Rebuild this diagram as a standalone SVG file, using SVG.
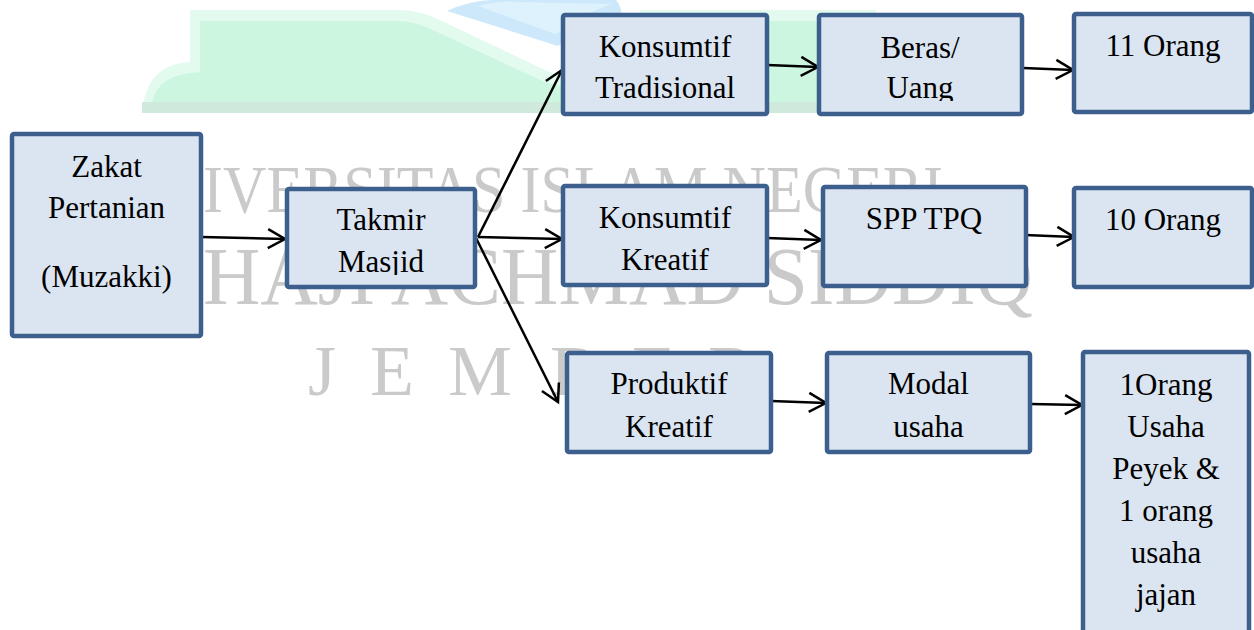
<svg xmlns="http://www.w3.org/2000/svg" width="1254" height="630" viewBox="0 0 1254 630">
<style>
.box{fill:#dbe5f1;stroke:#3c5f8e;stroke-width:4.5}
.t{font-family:"Liberation Serif","Times New Roman",serif;font-size:31px;fill:#000;text-anchor:middle}
.wm{font-family:"Liberation Serif","Times New Roman",serif;fill:#cacaca}
.c{stroke:#000;stroke-width:2.5;fill:none;marker-end:url(#ah)}
</style>
<defs>
<marker id="ah" markerUnits="userSpaceOnUse" markerWidth="22" markerHeight="24" viewBox="0 0 22 24" refX="19" refY="12" orient="auto">
<path d="M2,2.5 L19,12 L2,21.5" fill="none" stroke="#000" stroke-width="2.5"/>
</marker>
<clipPath id="clipTak"><rect x="287" y="189" width="188" height="86"/></clipPath>
<clipPath id="clipBer"><rect x="819" y="15" width="203" height="86"/></clipPath>
</defs>
<g id="watermark">
<path d="M142,113 Q146,64 190,62 L190,10 L400,10 Q420,10 442,21 L545,70 Q560,77 600,77 L600,113 Z" fill="#e3fbef"/>
<path d="M152,102 Q158,74 200,72 L200,21 L398,21 Q415,21 435,31 L540,80 Q556,88 600,88 L600,102 Z" fill="#cdf6e0"/>
<rect x="142" y="102" width="458" height="11" fill="#cfe9dc"/>
<rect x="640" y="10" width="236" height="103" fill="#e3fbef"/>
<rect x="640" y="21" width="236" height="81" fill="#cdf6e0"/>
<rect x="640" y="102" width="236" height="11" fill="#cfe9dc"/>
<path d="M447,11 Q468,1 492,0 L616,0 Q623,8 621,20 Q600,20 585,28 Q570,37 558,46 Z" fill="#cce8fa"/>
<path d="M478,6 Q500,0 520,2 L612,4 Q592,10 575,22 Q565,30 555,34 Z" fill="#def2fd"/>
<text class="wm" x="203" y="212" font-size="67" textLength="740" lengthAdjust="spacingAndGlyphs">IVERSITAS ISLAM NEGERI</text>
<text class="wm" x="203" y="304" font-size="82" textLength="830" lengthAdjust="spacingAndGlyphs">HAJI ACHMAD SIDDIQ</text>
<text class="wm" x="308 370 448 550 632 708" y="395" font-size="72">JEMBER</text>
</g>
<g id="connectors">
<line class="c" x1="202" y1="237" x2="285" y2="239"/>
<line class="c" x1="478" y1="237" x2="562" y2="70"/>
<line class="c" x1="478" y1="237" x2="562" y2="239"/>
<line class="c" x1="476" y1="238" x2="558" y2="402"/>
<line class="c" x1="767" y1="65" x2="818" y2="67"/>
<line class="c" x1="1023" y1="68" x2="1073" y2="70"/>
<line class="c" x1="767" y1="238" x2="821" y2="240"/>
<line class="c" x1="1025" y1="235" x2="1074" y2="237"/>
<line class="c" x1="771" y1="401" x2="826" y2="403"/>
<line class="c" x1="1031" y1="404" x2="1082" y2="405"/>
</g>
<g id="zakat">
<rect class="box" x="12" y="134" width="189" height="202" rx="2"/>
<text class="t" x="106.5" y="177">Zakat</text>
<text class="t" x="106.5" y="218">Pertanian</text>
<text class="t" x="106.5" y="287">(Muzakki)</text>
</g>
<g id="takmir">
<rect class="box" x="287" y="189" width="188" height="98" rx="2"/>
<g clip-path="url(#clipTak)">
<text class="t" x="381" y="230">Takmir</text>
<text class="t" x="381" y="272">Masjid</text>
</g>
</g>
<g id="konsumtif-tradisional">
<rect class="box" x="563" y="15" width="204" height="99" rx="2"/>
<text class="t" x="665" y="57">Konsumtif</text>
<text class="t" x="665" y="98">Tradisional</text>
</g>
<g id="beras-uang">
<rect class="box" x="819" y="15" width="203" height="99" rx="2"/>
<g clip-path="url(#clipBer)">
<text class="t" x="920" y="58">Beras/</text>
<text class="t" x="920" y="98">Uang</text>
</g>
</g>
<g id="orang11">
<rect class="box" x="1074" y="14" width="178" height="98" rx="2"/>
<text class="t" x="1163" y="56">11 Orang</text>
</g>
<g id="konsumtif-kreatif">
<rect class="box" x="563" y="186" width="204" height="99" rx="2"/>
<text class="t" x="665" y="228">Konsumtif</text>
<text class="t" x="665" y="270">Kreatif</text>
</g>
<g id="spp-tpq">
<rect class="box" x="823" y="187" width="203" height="99" rx="2"/>
<text class="t" x="924" y="229">SPP TPQ</text>
</g>
<g id="orang10">
<rect class="box" x="1074" y="188" width="178" height="99" rx="2"/>
<text class="t" x="1163" y="230">10 Orang</text>
</g>
<g id="produktif-kreatif">
<rect class="box" x="567" y="353" width="204" height="99" rx="2"/>
<text class="t" x="669" y="394">Produktif</text>
<text class="t" x="669" y="437">Kreatif</text>
</g>
<g id="modal-usaha">
<rect class="box" x="827" y="353" width="203" height="99" rx="2"/>
<text class="t" x="928.5" y="394">Modal</text>
<text class="t" x="928.5" y="437">usaha</text>
</g>
<g id="orang-usaha">
<rect class="box" x="1083" y="352" width="166" height="290" rx="2"/>
<text class="t" x="1166" y="395">1Orang</text>
<text class="t" x="1166" y="437">Usaha</text>
<text class="t" x="1166" y="479">Peyek &amp;</text>
<text class="t" x="1166" y="521">1 orang</text>
<text class="t" x="1166" y="563">usaha</text>
<text class="t" x="1166" y="605">jajan</text>
</g>
</svg>
